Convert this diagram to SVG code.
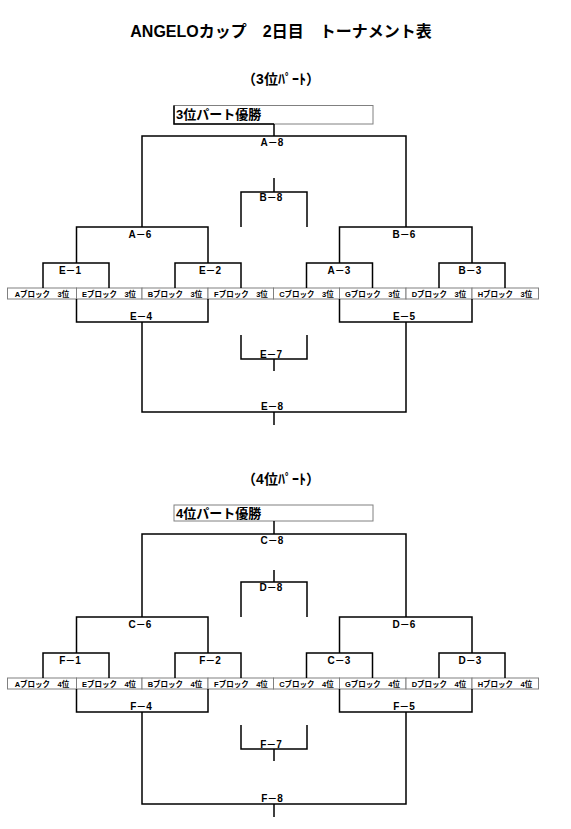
<svg xmlns="http://www.w3.org/2000/svg" width="571" height="829" viewBox="0 0 571 829">
<style>
text{font-family:"Liberation Sans","Noto Sans CJK JP",sans-serif;font-weight:bold;fill:#000}
.title{font-size:16px}
.sub{font-size:14px}
.champ{font-size:13px}
.lbl{font-size:10px;text-anchor:middle}
.team{font-size:7.5px;text-anchor:middle}
.cell{fill:#fff;stroke:#808080;stroke-width:1}
.br{fill:none;stroke:#000;stroke-width:1.5}
</style>
<rect width="571" height="829" fill="#fff"/>
<g id="title"><text class="title" x="281" y="37" text-anchor="middle">ANGELOカップ　2日目　トーナメント表</text></g>

<!-- ===== 3位パート ===== -->
<g id="sub3"><text class="sub" x="281" y="84" text-anchor="middle">（3位ﾊﾟｰﾄ）</text></g>
<g id="champ3">
<rect class="cell" x="174" y="105.5" width="199" height="18.5"/>
<path d="M174,105.5 V124 H274" fill="none" stroke="#000" stroke-width="1.5"/>
<text class="champ" x="176" y="119">3位パート優勝</text>
</g>
<g id="teams3">
<g id="t3-A"><rect class="cell" x="7.5" y="288" width="69" height="11"/><text class="team" x="42" y="297">Aブロック　3位</text></g>
<g id="t3-E"><rect class="cell" x="76.5" y="288" width="65.5" height="11"/><text class="team" x="109" y="297">Eブロック　3位</text></g>
<g id="t3-B"><rect class="cell" x="142" y="288" width="66" height="11"/><text class="team" x="175" y="297">Bブロック　3位</text></g>
<g id="t3-F"><rect class="cell" x="208" y="288" width="65.5" height="11"/><text class="team" x="241" y="297">Fブロック　3位</text></g>
<g id="t3-C"><rect class="cell" x="273.5" y="288" width="66" height="11"/><text class="team" x="306.5" y="297">Cブロック　3位</text></g>
<g id="t3-G"><rect class="cell" x="339.5" y="288" width="66.5" height="11"/><text class="team" x="372.5" y="297">Gブロック　3位</text></g>
<g id="t3-D"><rect class="cell" x="406" y="288" width="66" height="11"/><text class="team" x="439" y="297">Dブロック　3位</text></g>
<g id="t3-H"><rect class="cell" x="472" y="288" width="66.5" height="11"/><text class="team" x="505" y="297">Hブロック　3位</text></g>
</g>
<g id="connectors3" class="br">
<path d="M274,124 V136"/>
<path d="M142,227 V136 H406 V227"/>
<path d="M274,178 V192 M241,227 V192 H307 V227"/>
<path d="M76.5,263 V227 H208 V263"/>
<path d="M43,288 V263 H109 V288"/>
<path d="M175,288 V263 H241 V288"/>
<path d="M339.5,263 V227 H472 V263"/>
<path d="M306.5,288 V263 H372.5 V288"/>
<path d="M439,288 V263 H505 V288"/>
<path d="M76.5,299 V322 H208 V299"/>
<path d="M339.5,299 V322 H472 V299"/>
<path d="M142,322 V412 H406 V322 M274,412 V425"/>
<path d="M241,335 V359 H307 V335 M274,359 V371"/>
</g>
<g id="labels3">
<g id="A-8"><text class="lbl" x="272" y="146">A－8</text></g>
<g id="B-8"><text class="lbl" x="271" y="201">B－8</text></g>
<g id="A-6"><text class="lbl" x="140" y="238">A－6</text></g>
<g id="B-6"><text class="lbl" x="404" y="238">B－6</text></g>
<g id="E-1"><text class="lbl" x="70" y="274">E－1</text></g>
<g id="E-2"><text class="lbl" x="210" y="274">E－2</text></g>
<g id="A-3"><text class="lbl" x="339" y="274">A－3</text></g>
<g id="B-3"><text class="lbl" x="470" y="274">B－3</text></g>
<g id="E-4"><text class="lbl" x="141" y="320">E－4</text></g>
<g id="E-5"><text class="lbl" x="404" y="320">E－5</text></g>
<g id="E-7"><text class="lbl" x="271" y="357.5">E－7</text></g>
<g id="E-8"><text class="lbl" x="272" y="410">E－8</text></g>
</g>

<!-- ===== 4位パート ===== -->
<g id="sub4"><text class="sub" x="281" y="484" text-anchor="middle">（4位ﾊﾟｰﾄ）</text></g>
<g id="champ4">
<rect class="cell" x="174" y="505" width="199" height="16"/>
<text class="champ" x="176" y="518">4位パート優勝</text>
</g>
<g id="teams4">
<g id="t4-A"><rect class="cell" x="7.5" y="678" width="69" height="11"/><text class="team" x="42" y="687">Aブロック　4位</text></g>
<g id="t4-E"><rect class="cell" x="76.5" y="678" width="65.5" height="11"/><text class="team" x="109" y="687">Eブロック　4位</text></g>
<g id="t4-B"><rect class="cell" x="142" y="678" width="66" height="11"/><text class="team" x="175" y="687">Bブロック　4位</text></g>
<g id="t4-F"><rect class="cell" x="208" y="678" width="65.5" height="11"/><text class="team" x="241" y="687">Fブロック　4位</text></g>
<g id="t4-C"><rect class="cell" x="273.5" y="678" width="66" height="11"/><text class="team" x="306.5" y="687">Cブロック　4位</text></g>
<g id="t4-G"><rect class="cell" x="339.5" y="678" width="66.5" height="11"/><text class="team" x="372.5" y="687">Gブロック　4位</text></g>
<g id="t4-D"><rect class="cell" x="406" y="678" width="66" height="11"/><text class="team" x="439" y="687">Dブロック　4位</text></g>
<g id="t4-H"><rect class="cell" x="472" y="678" width="66.5" height="11"/><text class="team" x="505" y="687">Hブロック　4位</text></g>
</g>
<g id="connectors4" class="br">
<path d="M274,521 V534"/>
<path d="M142,617 V534 H406 V617"/>
<path d="M274,570 V582 M241,617 V582 H307 V617"/>
<path d="M76.5,653 V617 H208 V653"/>
<path d="M43,678 V653 H109 V678"/>
<path d="M175,678 V653 H241 V678"/>
<path d="M339.5,653 V617 H472 V653"/>
<path d="M306.5,678 V653 H372.5 V678"/>
<path d="M439,678 V653 H505 V678"/>
<path d="M76.5,689 V712 H208 V689"/>
<path d="M339.5,689 V712 H472 V689"/>
<path d="M142,712 V804 H406 V712 M274,804 V817"/>
<path d="M241,725 V749 H307 V725 M274,749 V761"/>
</g>
<g id="labels4">
<g id="C-8"><text class="lbl" x="272" y="544">C－8</text></g>
<g id="D-8"><text class="lbl" x="271" y="591">D－8</text></g>
<g id="C-6"><text class="lbl" x="140" y="628">C－6</text></g>
<g id="D-6"><text class="lbl" x="404" y="628">D－6</text></g>
<g id="F-1"><text class="lbl" x="70" y="664">F－1</text></g>
<g id="F-2"><text class="lbl" x="210" y="664">F－2</text></g>
<g id="C-3"><text class="lbl" x="339" y="664">C－3</text></g>
<g id="D-3"><text class="lbl" x="470" y="664">D－3</text></g>
<g id="F-4"><text class="lbl" x="141" y="710">F－4</text></g>
<g id="F-5"><text class="lbl" x="404" y="710">F－5</text></g>
<g id="F-7"><text class="lbl" x="271" y="747.5">F－7</text></g>
<g id="F-8"><text class="lbl" x="272" y="802">F－8</text></g>
</g>
</svg>
